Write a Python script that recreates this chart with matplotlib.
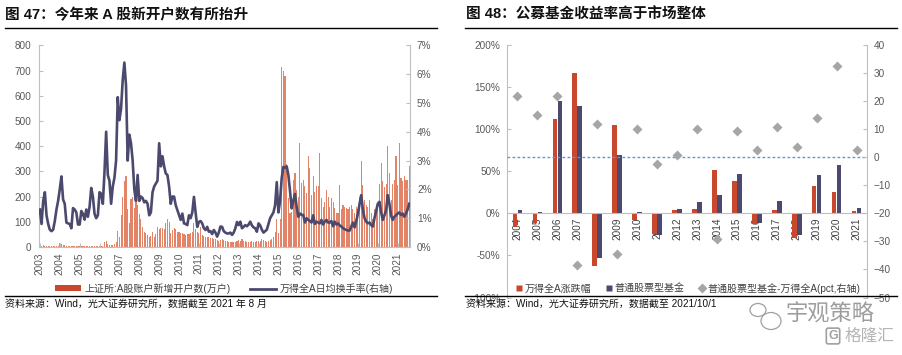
import matplotlib
matplotlib.use('Agg')
import matplotlib.pyplot as plt
import numpy as np
from matplotlib.lines import Line2D
from matplotlib.patches import Patch, Ellipse
from matplotlib.ticker import FuncFormatter

plt.rcParams['font.family'] = ['Liberation Sans', 'Noto Sans CJK SC', 'DejaVu Sans']

# ---------------- Left chart data (monthly, Jan 2003 - Aug 2021) ----------------
start_year = 2003
acct_2003 = [5, 4, 6, 5, 4, 3, 3, 3, 3, 3, 3, 4]
acct_2004 = [15, 12, 8, 6, 4, 3, 3, 3, 3, 2, 3, 3]
acct_2005 = [2, 2, 2, 2, 2, 2, 2, 3, 3, 2, 2, 3]
acct_2006 = [4, 4, 5, 20, 25, 12, 8, 6, 8, 12, 18, 65]
acct_2007 = [40, 127, 200, 260, 280, 150, 94, 190, 200, 153, 200, 167]
acct_2008 = [130, 110, 80, 61, 54, 48, 41, 45, 61, 40, 50, 80]
acct_2009 = [70, 74, 74, 70, 95, 113, 99, 54, 67, 74, 70, 60]
acct_2010 = [60, 54, 55, 52, 48, 50, 52, 54, 61, 94, 70, 60]
acct_2011 = [55, 80, 48, 45, 41, 40, 38, 36, 34, 33, 30, 28]
acct_2012 = [25, 28, 30, 28, 25, 22, 20, 20, 18, 18, 20, 22]
acct_2013 = [28, 25, 30, 22, 22, 20, 18, 20, 22, 20, 20, 22]
acct_2014 = [22, 25, 30, 28, 22, 20, 25, 28, 30, 41, 60, 110]
acct_2015 = [55, 110, 715, 700, 680, 330, 195, 134, 140, 266, 293, 227]
acct_2016 = [200, 411, 253, 266, 240, 213, 359, 313, 205, 280, 220, 240]
acct_2017 = [240, 374, 193, 160, 180, 227, 200, 160, 195, 180, 155, 134]
acct_2018 = [134, 246, 150, 167, 160, 155, 150, 160, 167, 150, 134, 160]
acct_2019 = [150, 200, 340, 246, 187, 167, 160, 187, 134, 110, 150, 167]
acct_2020 = [170, 250, 335, 260, 236, 250, 402, 293, 187, 250, 266, 359]
acct_2021 = [246, 411, 273, 260, 280, 266, 266, 320]

turn_2003 = [1.3, 0.8, 1.6, 1.9, 1.1, 0.8, 0.6, 0.55, 0.6, 0.9, 1.3, 1.6]
turn_2004 = [2.0, 2.45, 1.65, 1.5, 0.85, 0.82, 0.8, 0.65, 1.35, 1.3, 1.2, 0.78]
turn_2005 = [0.78, 1.25, 1.15, 0.95, 1.3, 1.05, 1.4, 2.05, 1.75, 1.15, 1.0, 1.1]
turn_2006 = [1.9, 1.85, 1.5, 2.6, 4.0, 2.5, 2.3, 1.5, 2.1, 2.4, 3.0, 5.2]
turn_2007 = [4.4, 4.8, 5.8, 6.4, 5.6, 3.0, 3.9, 3.6, 3.0, 2.0, 1.6, 2.5]
turn_2008 = [1.6, 1.75, 1.7, 1.55, 1.6, 1.5, 1.1, 1.2, 1.9, 2.1, 2.2, 2.3]
turn_2009 = [3.6, 2.8, 3.15, 2.8, 2.55, 2.5, 2.1, 1.5, 1.75, 1.75, 1.45, 1.28]
turn_2010 = [1.1, 0.94, 1.16, 0.82, 0.8, 0.76, 1.1, 1.0, 1.2, 1.74, 1.2, 0.7]
turn_2011 = [0.87, 0.9, 0.82, 0.65, 0.59, 0.7, 0.53, 0.55, 0.45, 0.59, 0.5, 0.36]
turn_2012 = [0.5, 0.71, 0.7, 0.55, 0.5, 0.47, 0.47, 0.5, 0.42, 0.5, 0.65, 0.87]
turn_2013 = [0.76, 0.88, 0.65, 0.7, 0.76, 0.72, 0.78, 0.88, 0.75, 0.68, 0.65, 0.53]
turn_2014 = [0.82, 0.75, 0.6, 0.5, 0.55, 0.6, 0.8, 1.0, 1.1, 1.2, 1.45, 2.25]
turn_2015 = [1.2, 1.6, 2.4, 2.78, 2.75, 2.8, 2.5, 1.95, 1.34, 1.6, 1.84, 1.4]
turn_2016 = [1.05, 1.16, 1.12, 1.11, 0.85, 1.0, 0.94, 0.9, 0.85, 1.1, 0.8, 0.88]
turn_2017 = [0.85, 0.82, 0.94, 0.78, 0.88, 0.94, 0.85, 0.85, 0.9, 0.72, 0.88, 0.78]
turn_2018 = [0.82, 0.75, 0.71, 0.65, 0.62, 0.59, 0.57, 0.57, 0.71, 0.85, 0.68, 0.9]
turn_2019 = [1.15, 1.5, 1.8, 1.3, 1.0, 0.88, 0.82, 0.85, 0.76, 0.71, 1.0, 1.25]
turn_2020 = [1.5, 1.57, 1.2, 0.94, 1.1, 1.28, 1.8, 1.5, 1.1, 0.94, 1.05, 1.1]
turn_2021 = [1.16, 1.2, 1.11, 1.16, 1.05, 1.16, 1.3, 1.5]

new_accounts = (acct_2003 + acct_2004 + acct_2005 + acct_2006 + acct_2007 + acct_2008 +
                acct_2009 + acct_2010 + acct_2011 + acct_2012 + acct_2013 + acct_2014 +
                acct_2015 + acct_2016 + acct_2017 + acct_2018 + acct_2019 + acct_2020 + acct_2021)
turnover = (turn_2003 + turn_2004 + turn_2005 + turn_2006 + turn_2007 + turn_2008 +
            turn_2009 + turn_2010 + turn_2011 + turn_2012 + turn_2013 + turn_2014 +
            turn_2015 + turn_2016 + turn_2017 + turn_2018 + turn_2019 + turn_2020 + turn_2021)
year_ticks = list(range(2003, 2022))

# ---------------- Right chart data ----------------
fund_years = [str(y) for y in range(2004, 2022)]
wind_a_chg = [-16, -11, 112, 167, -63, 105, -8, -24, 4, 5, 52, 38, -13, 4, -29, 33, 25, 3]
stock_fund_chg = [4, 2, 134, 128, -53, 70, 2, -26, 5, 14, 22, 47, -11, 15, -26, 46, 58, 6]
excess_pct = [22, 15, 22, -38.5, 12, -34.6, 10, -2.4, 1, 10, -29, 9.3, 2.8, 11, 3.6, 14, 32.7, 2.8]

# ---------------- Figure ----------------
W, H = 902, 355
fig = plt.figure(figsize=(W / 100, H / 100), dpi=100)

def fx(px):
    return px / W

def fy(py):
    return 1 - py / H

TICK_C = '#595959'
SPINE_C = '#BFBFBF'
RED = '#C9472C'
BAR_RED = '#E38468'
NAVY = '#4B4A6E'

# Titles / rules / sources
fig.text(fx(5), fy(15), '图 47：今年来 A 股新开户数有所抬升', fontsize=10.5, fontweight='bold',
         va='center', ha='left', color='#111111')
fig.text(fx(466), fy(15), '图 48：公募基金收益率高于市场整体', fontsize=10.5, fontweight='bold',
         va='center', ha='left', color='#111111')
for (xa, xb) in [(5, 437), (465, 897)]:
    fig.add_artist(Line2D([fx(xa), fx(xb)], [fy(27.5), fy(27.5)], color='black', lw=1.0, zorder=10))
    fig.add_artist(Line2D([fx(xa), fx(xb)], [fy(295.8), fy(295.8)], color='black', lw=1.0, zorder=10))
fig.text(fx(5), fy(304), '资料来源：Wind，光大证券研究所，数据截至 2021 年 8 月', fontsize=7.2,
         va='center', ha='left', color='#111111')
fig.text(fx(466), fy(304), '资料来源：Wind，光大证券研究所，数据截至 2021/10/1', fontsize=7.2,
         va='center', ha='left', color='#111111')

# ---------------- Left chart ----------------
months = np.arange(len(new_accounts))
xs = start_year + months / 12.0

ax1 = fig.add_axes([fx(38.5), fy(247), fx(410) - fx(38.5), fy(45.3) - fy(247)])
ax1.bar(xs, new_accounts, width=0.055, color=BAR_RED, linewidth=0, zorder=2)
ax1.set_xlim(2002.93, 2021.62)
ax1.set_ylim(0, 800)
ax1.set_yticks(range(0, 801, 100))
ax1.set_xticks(year_ticks)
ax1.set_xticklabels([str(y) for y in year_ticks])
for s in ['top', 'right']:
    ax1.spines[s].set_visible(False)
for s in ['left', 'bottom']:
    ax1.spines[s].set_color(SPINE_C)
ax1.tick_params(axis='both', labelsize=7.2, colors=TICK_C, length=3, width=0.8, color=SPINE_C,
                direction='in')
ax1.tick_params(axis='x', pad=4, labelrotation=90)
ax1.tick_params(axis='y', pad=5)

ax1b = ax1.twinx()
ax1b.plot(xs, turnover, color=NAVY, lw=1.9, zorder=3)
ax1b.set_ylim(0, 7)
ax1b.set_yticks(range(0, 8))
ax1b.yaxis.set_major_formatter(FuncFormatter(lambda v, p: f'{int(v)}%'))
for s in ['top', 'left', 'bottom']:
    ax1b.spines[s].set_visible(False)
ax1b.spines['right'].set_color(SPINE_C)
ax1b.tick_params(axis='y', labelsize=7.2, colors=TICK_C, length=3, width=0.8, color=SPINE_C, pad=5,
                 direction='in')

h1 = [Patch(facecolor=RED, edgecolor='none'),
      Line2D([0], [0], color=NAVY, lw=2)]
l1 = ['上证所:A股账户新增开户数(万户)', '万得全A日均换手率(右轴)']
fig.legend(h1, l1, loc='center', bbox_to_anchor=(fx(224), fy(288.5)), ncol=2, frameon=False,
           fontsize=7.2, handlelength=2.6, handleheight=0.55, columnspacing=2.0,
           handletextpad=0.3, labelcolor='#404040')

# ---------------- Right chart ----------------
ax2 = fig.add_axes([fx(507.3), fy(297.5), fx(866.7) - fx(507.3), fy(45.3) - fy(297.5)])
ax2.set_axisbelow(True)
ax2.spines['bottom'].set_position(('data', 0))
pos = np.arange(len(fund_years))
bw = 0.22
ax2.bar(pos - 0.125, wind_a_chg, width=bw, color=RED, linewidth=0, zorder=2)
ax2.bar(pos + 0.125, stock_fund_chg, width=bw, color=NAVY, linewidth=0, zorder=2)
ax2.set_xlim(-0.5, 17.5)
ax2.set_ylim(-100, 200)
ax2.set_yticks(range(-100, 201, 50))
ax2.yaxis.set_major_formatter(FuncFormatter(lambda v, p: f'{int(v)}%'))
ax2.set_xticks(pos)
ax2.set_xticklabels(fund_years)
ax2.spines['bottom'].set_color(SPINE_C)
ax2.spines['left'].set_color(SPINE_C)
ax2.spines['top'].set_visible(False)
ax2.spines['right'].set_visible(False)
ax2.tick_params(axis='x', labelsize=7.2, colors='#404040', length=0, pad=3, labelrotation=90)
ax2.tick_params(axis='y', labelsize=7.2, colors=TICK_C, length=3, width=0.8, color=SPINE_C, pad=5,
                direction='in')

ax2b = ax2.twinx()
ax2b.set_ylim(-50, 40)
ax2b.set_yticks(range(-50, 41, 10))
ax2b.axhline(0, color='#5B9BD5', lw=1.0, linestyle=(0, (2, 1.6)), zorder=1)
ax2b.scatter(pos, excess_pct, marker='D', s=26, color='#A6A6A6', linewidths=0, zorder=3)
for s in ['top', 'left', 'bottom']:
    ax2b.spines[s].set_visible(False)
ax2b.spines['right'].set_color(SPINE_C)
ax2b.tick_params(axis='y', labelsize=7.2, colors=TICK_C, length=3, width=0.8, color=SPINE_C, pad=5,
                 direction='in')

h2 = [Line2D([0], [0], marker='s', color='none', markerfacecolor=RED, markeredgecolor='none', markersize=4.5),
      Line2D([0], [0], marker='s', color='none', markerfacecolor=NAVY, markeredgecolor='none', markersize=4.5),
      Line2D([0], [0], marker='D', color='none', markerfacecolor='#A6A6A6', markeredgecolor='none', markersize=5)]
l2 = ['万得全A涨跌幅', '普通股票型基金', '普通股票型基金-万得全A(pct,右轴)']
fig.legend(h2, l2, loc='center', bbox_to_anchor=(fx(688), fy(288.5)), ncol=3, frameon=False,
           fontsize=7.2, handlelength=0.7, columnspacing=1.4, handletextpad=0.2,
           labelcolor='#404040')

# Watermark (WeChat-style bubbles + text)
for (cx, cy, rw, rh) in [(758, 310, 16, 13), (771, 321, 20, 17)]:
    fig.add_artist(Ellipse((fx(cx), fy(cy)), fx(rw), rh / H, transform=fig.transFigure,
                           fill=False, ec='#A0A0A0', lw=0.9, zorder=11))
fig.text(fx(785), fy(315), '宇观策略', fontsize=16, color='#8C8C8C', va='center', ha='left', alpha=0.85)
fig.text(fx(833), fy(336), 'G', fontsize=9, color='#A0A0A0', va='center', ha='center', fontweight='bold',
         bbox=dict(boxstyle='round,pad=0.15', fc='none', ec='#A0A0A0', lw=1.2))
fig.text(fx(845), fy(336), '格隆汇', fontsize=12, color='#A8A8A8', va='center', ha='left', alpha=0.85)

fig.savefig('out.png', dpi=100)
